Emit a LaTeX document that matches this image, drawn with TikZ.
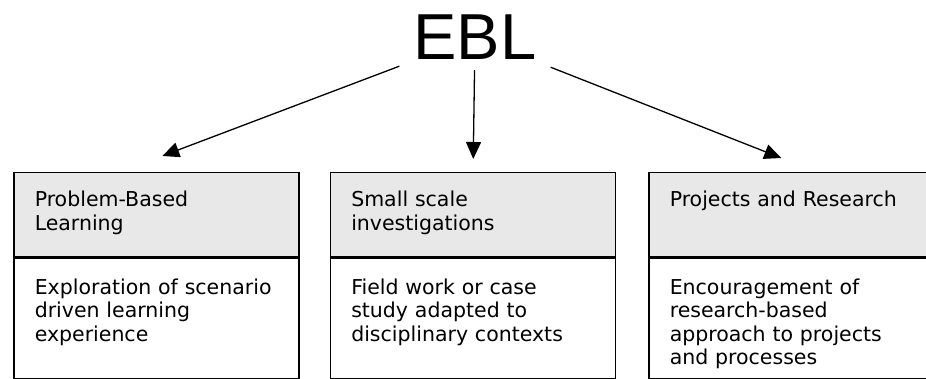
\documentclass[tikz,border=0pt]{standalone}
\usepackage{fontspec}
\usepackage{tikz}
\usetikzlibrary{arrows.meta, positioning}
\newfontfamily\boxfont{DejaVu Sans}
\newfontfamily\titlefont{Liberation Sans}

\begin{document}
\begin{tikzpicture}[
      x=1pt, y=1pt,
      head/.style={draw, line width=1.5pt, fill=black!9, anchor=north west,
        text width=243pt, inner xsep=21pt, inner ysep=12pt,
        text height=22pt, text depth=38pt, align=left,
        font=\boxfont\fontsize{20.5}{23.5}\selectfont},
      body/.style={head, fill=white, text height=24pt, text depth=73pt},
      arr/.style={-{Triangle[length=17pt, width=15pt]}, line width=1.3pt}
    ]
      \useasboundingbox (0,0) rectangle (926,379);

      \node[font=\titlefont\fontsize{65}{65}\selectfont, inner xsep=14pt,
        inner ysep=10pt, anchor=base] (ebl) at (475,319) {EBL};

      \node[head] (head1) at (13,207) {Problem-Based\\Learning};
      \node[head, right=30pt of head1] (head2) {Small scale\\investigations};
      \node[head, right=32pt of head2] (head3) {Projects and Research};

      \node[body, below=0pt of head1] (body1)
        {Exploration of scenario\\driven learning\\experience};
      \node[body, below=0pt of head2] (body2)
        {Field work or case\\study adapted to\\disciplinary contexts};
      \node[body, below=0pt of head3] (body3)
        {Encouragement of\\research-based\\approach to projects\\and processes};

      \draw[arr] (ebl) -- ([xshift=6pt, yshift=16pt]head1.north);
      \draw[arr] (ebl) -- ([xshift=0.5pt, yshift=13pt]head2.north);
      \draw[arr] (ebl) -- ([xshift=-10pt, yshift=14pt]head3.north);
    \end{tikzpicture}
\end{document}
